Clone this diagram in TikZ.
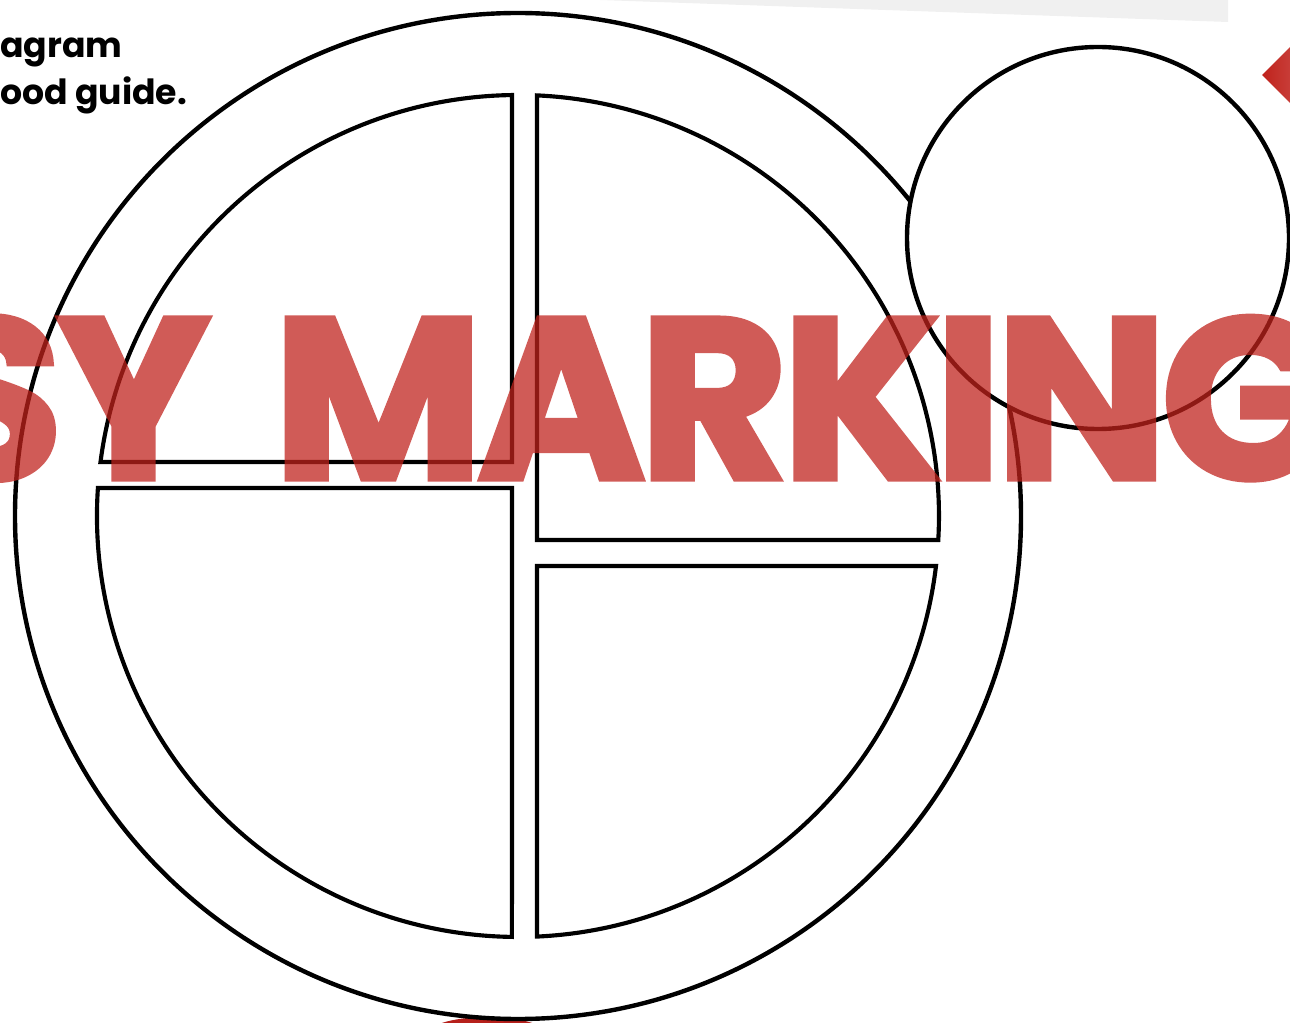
\documentclass[tikz,border=0pt]{standalone}
\usepackage{fontspec}
\usepackage{xcolor}
\usepackage{tikz}
\newfontfamily\platefont{Poppins}
\newfontfamily\stampfont{Poppins}[BoldFeatures={FakeBold=2.2},LetterSpace=-3,WordSpace=1.5]
\definecolor{markred}{RGB}{192,34,28}
\definecolor{bandgray}{RGB}{240,240,240}

\begin{document}
\begin{tikzpicture}[x=0.75pt,y=-0.75pt,
  rim/.style={draw=black,line width=3.3pt},
  part/.style={draw=black,line width=3.1pt,line join=miter},
  stamp/.style={text=markred,font=\stampfont\bfseries\fontsize{172}{172}\selectfont,inner sep=0pt,anchor=base west},
  head/.style={font=\platefont\bfseries\fontsize{26}{35}\selectfont,inner sep=0pt,anchor=base west}]
\useasboundingbox (0,0) rectangle (1290,1023);
% page bits
\fill[bandgray] (600,0) -- (1228,0) -- (1228,22) -- cycle;
\fill[markred!95!black] (487,1036) ellipse[x radius=62,y radius=19];
\shade[left color=markred,right color=markred!70!white] (1262,75) -- (1296,41) -- (1330,75) -- (1296,109) -- cycle;
% plate
\draw[rim] (518,516) circle[radius=503];
\draw[part] (512,462) -- (100.5,462) arc[start angle=187.37,end angle=269.18,radius=421] -- cycle;
\draw[part] (537,540) -- (537,95.4) arc[start angle=-87.41,end angle=3.27,radius=421] -- cycle;
\draw[part] (512,488) -- (97.9,488) arc[start angle=183.81,end angle=90.82,radius=421] -- cycle;
\draw[part] (537,566) -- (936,566) arc[start angle=6.82,end angle=87.41,radius=421] -- cycle;
% side cup
\draw[rim,fill=white] (1098,238) circle[radius=191];
% texts
\begin{scope}[transparency group,opacity=0.74]
\node[stamp] (watermark) at (-78,479) {SY MARKING};
\end{scope}
\node[head] (title1) at (0,58) {agram};
\node[head] (title2) at (0,105) {ood guide.};
\end{tikzpicture}
\end{document}
